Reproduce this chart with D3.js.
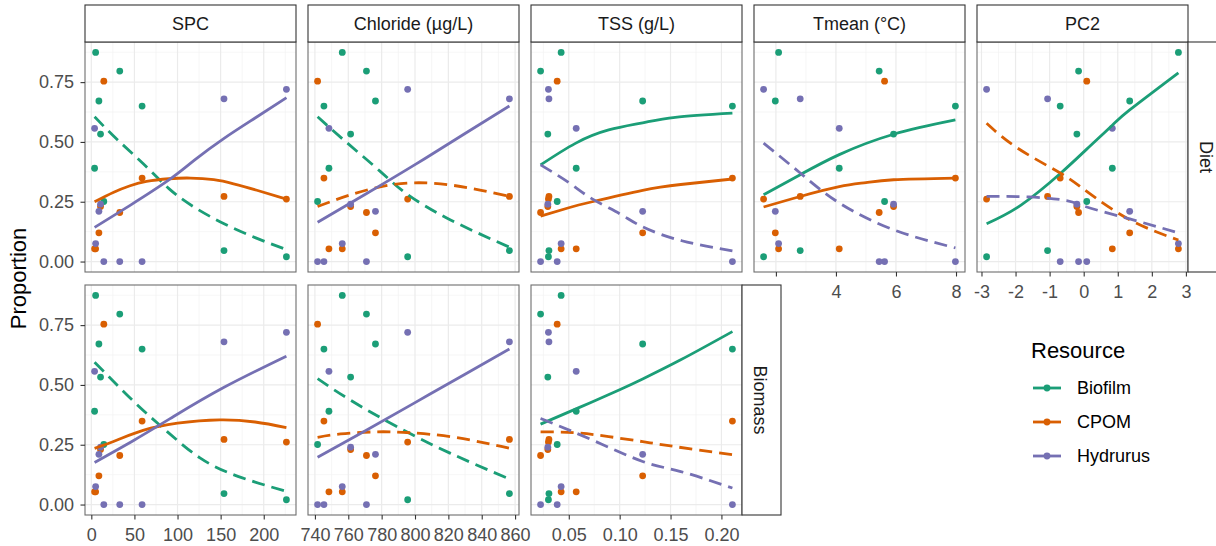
<!DOCTYPE html>
<html>
<head>
<meta charset="utf-8">
<script src="https://cdn.jsdelivr.net/npm/d3@7"></script>
<style>
  body { margin: 0; background: #fff; }
  svg text { font-family: "Liberation Sans", Arial, sans-serif; }
</style>
</head>
<body>
<script>
var W = 1216, H = 546;

// ---- data ----
var resources = ['Biofilm', 'CPOM', 'Hydrurus'];
var colors = ['#1B9E77', '#D95F02', '#7570B3'];
var facets = ['SPC', 'Chloride (µg/L)', 'TSS (g/L)', 'Tmean (°C)', 'PC2'];
var rows = ['Diet', 'Biomass'];

// one value per site (9 sites)
var spc      = [14.5, 58.9, 3.8, 5.0, 10.7, 33.0, 8.8, 226.3, 153.9];
var chloride = [741.6, 745.4, 748.4, 756.4, 761.4, 770.9, 776.3, 795.6, 856.6];
var tss      = [0.0386, 0.2108, 0.0573, 0.0425, 0.0294, 0.0223, 0.1226, 0.0300, 0.0305];
var tmean    = [5.62, 7.98, 4.11, 2.09, 5.92, 5.44, 1.98, 1.59, 2.81];
var pc2      = [0.09, -0.69, 0.84, 2.78, -0.20, -0.15, 1.35, -2.85, -1.06];

var biofilm  = [0.251, 0.650, 0.390, 0.874, 0.533, 0.796, 0.671, 0.020, 0.046];
var cpom     = [0.754, 0.349, 0.053, 0.053, 0.230, 0.205, 0.120, 0.261, 0.272];
var hydrurus = [0.000, 0.000, 0.557, 0.075, 0.240, 0.000, 0.210, 0.720, 0.680];

var propTicks = [0, 0.25, 0.5, 0.75];
var spcTicks = [0, 50, 100, 150, 200];
var chlorideTicks = [740, 760, 780, 800, 820, 840, 860];
var tssTicks = [0.05, 0.10, 0.15, 0.20];
var tmeanTicks = [2, 4, 6, 8];
var pc2Ticks = [-3, -2, -1, 0, 1, 2, 3];

// fitted curves: [x, proportion] for Biofilm, CPOM, Hydrurus
var dietSPC = [
  [[3.8,0.605],[30,0.51],[60,0.41],[90,0.305],[120,0.226],[154,0.158],[190,0.10],[226.3,0.05]],
  [[3.8,0.25],[26,0.29],[45,0.317],[64,0.335],[90,0.346],[115,0.349],[142,0.342],[165,0.325],[192,0.298],[226.3,0.261]],
  [[3.8,0.143],[45,0.235],[89.6,0.34],[120,0.425],[154,0.515],[190,0.60],[226.3,0.685]]
];
var dietChloride = [
  [[741.6,0.605],[757.3,0.508],[779.3,0.376],[795.6,0.28],[821,0.175],[856.6,0.06]],
  [[741.6,0.23],[761.4,0.279],[785,0.32],[809,0.328],[833,0.307],[856.6,0.272]],
  [[741.6,0.164],[770,0.28],[800,0.405],[830,0.535],[856.6,0.65]]
];
var dietTSS = [
  [[0.0223,0.404],[0.0565,0.494],[0.0892,0.55],[0.1226,0.58],[0.1546,0.603],[0.2108,0.62]],
  [[0.0223,0.19],[0.05,0.225],[0.073,0.25],[0.1226,0.298],[0.16,0.322],[0.2108,0.345]],
  [[0.0223,0.404],[0.05,0.33],[0.073,0.262],[0.10,0.20],[0.1226,0.145],[0.161,0.087],[0.2108,0.045]]
];
var dietTmean = [
  [[1.59,0.279],[2.81,0.363],[4.11,0.447],[5.92,0.532],[7.98,0.592]],
  [[1.59,0.228],[2.81,0.272],[4.11,0.313],[5.0,0.33],[5.92,0.342],[7.98,0.349]],
  [[1.59,0.495],[2.81,0.37],[4.11,0.245],[5.92,0.133],[7.98,0.057]]
];
var dietPC2 = [
  [[-2.85,0.158],[-1.83,0.237],[-0.67,0.37],[0.09,0.47],[0.84,0.57],[1.35,0.634],[2.78,0.789]],
  [[-2.85,0.578],[-1.94,0.474],[-0.69,0.37],[0.09,0.293],[1.35,0.175],[2.78,0.09]],
  [[-2.85,0.272],[-1.6,0.27],[-0.5,0.255],[0.09,0.228],[1.35,0.178],[2.78,0.12]]
];
var biomassSPC = [
  [[3.8,0.595],[50,0.428],[88,0.305],[126,0.195],[170,0.118],[226.3,0.055]],
  [[3.8,0.235],[30,0.27],[60,0.31],[100,0.34],[149,0.354],[190,0.345],[226.3,0.322]],
  [[3.8,0.176],[50,0.27],[95,0.367],[154,0.49],[226.3,0.62]]
];
var biomassChloride = [
  [[741.6,0.526],[761.4,0.436],[789.3,0.325],[821,0.215],[856.6,0.107]],
  [[741.6,0.281],[755.4,0.295],[777.3,0.304],[797.2,0.30],[821,0.284],[845,0.253],[856.6,0.235]],
  [[741.6,0.198],[770,0.307],[799.5,0.424],[830,0.545],[856.6,0.65]]
];
var biomassTSS = [
  [[0.0223,0.336],[0.06,0.405],[0.10,0.48],[0.1226,0.525],[0.16,0.605],[0.2108,0.723]],
  [[0.0223,0.304],[0.0565,0.30],[0.0892,0.284],[0.1226,0.263],[0.1546,0.242],[0.2108,0.208]],
  [[0.0223,0.36],[0.073,0.27],[0.1226,0.18],[0.16,0.138],[0.2108,0.069]]
];
// 1 = dashed (non-significant), 0 = solid
var dietDashed = [[1,0,0],[1,1,0],[0,0,1],[0,0,1],[0,1,1]];
var biomassDashed = [[1,0,0],[1,1,0],[0,1,1]];

var predictors = [spc, chloride, tss, tmean, pc2];
var props = [biofilm, cpom, hydrurus];
var tickSets = [spcTicks, chlorideTicks, tssTicks, tmeanTicks, pc2Ticks];
var tickFmt = [d3.format('d'), d3.format('d'), d3.format('.2f'), d3.format('d'), function(d){ return String(d); }];
var fits = [[dietSPC, dietChloride, dietTSS, dietTmean, dietPC2], [biomassSPC, biomassChloride, biomassTSS]];
var dashed = [dietDashed, biomassDashed];

// ---- layout ----
var px0 = 85, pw = 211, pstep = 223;
var rowTop = [42, 285], ph = 230;
var stripTop = 5, stripW = 39;
var font = '"Liberation Sans", Arial, sans-serif';

var svg = d3.select('body').append('svg').attr('width', W).attr('height', H);
svg.append('rect').attr('width', W).attr('height', H).attr('fill', '#fff');

function expand(ext){
  var d = (ext[1] - ext[0]) * 0.05;
  return [ext[0] - d, ext[1] + d];
}
function minors(ticks, dom){
  var step = ticks[1] - ticks[0], out = [];
  for (var i = -1; i < ticks.length; i++) {
    var m = ticks[0] + step * (i + 0.5);
    if (m > dom[0] && m < dom[1]) out.push(m);
  }
  return out;
}

var allProps = biofilm.concat(cpom, hydrurus);
var yDom = expand(d3.extent(allProps));
var yMinor = minors(propTicks, yDom);

var xScales = predictors.map(function(p, i){
  return d3.scaleLinear().domain(expand(d3.extent(p))).range([px0 + pstep * i, px0 + pstep * i + pw]);
});

var line = d3.line().curve(d3.curveNatural);

rows.forEach(function(row, r){
  var y = d3.scaleLinear().domain(yDom).range([rowTop[r] + ph, rowTop[r]]);
  var ncol = fits[r].length;
  for (var c = 0; c < ncol; c++) {
    var x = xScales[c];
    var g = svg.append('g').attr('class', 'panel');
    var x0 = x.range()[0];
    g.append('rect').attr('x', x0).attr('y', rowTop[r]).attr('width', pw).attr('height', ph).attr('fill', '#fff');

    // grid
    var xd = x.domain();
    g.selectAll('.xmin').data(minors(tickSets[c], xd)).enter().append('line')
      .attr('x1', function(d){ return x(d); }).attr('x2', function(d){ return x(d); })
      .attr('y1', rowTop[r]).attr('y2', rowTop[r] + ph)
      .attr('stroke', '#f2f2f2').attr('stroke-width', 0.7);
    g.selectAll('.ymin').data(yMinor).enter().append('line')
      .attr('x1', x0).attr('x2', x0 + pw)
      .attr('y1', function(d){ return y(d); }).attr('y2', function(d){ return y(d); })
      .attr('stroke', '#f2f2f2').attr('stroke-width', 0.7);
    g.selectAll('.xmaj').data(tickSets[c].filter(function(d){ return d >= xd[0] && d <= xd[1]; })).enter().append('line')
      .attr('x1', function(d){ return x(d); }).attr('x2', function(d){ return x(d); })
      .attr('y1', rowTop[r]).attr('y2', rowTop[r] + ph)
      .attr('stroke', '#ebebeb').attr('stroke-width', 1.2);
    g.selectAll('.ymaj').data(propTicks).enter().append('line')
      .attr('x1', x0).attr('x2', x0 + pw)
      .attr('y1', function(d){ return y(d); }).attr('y2', function(d){ return y(d); })
      .attr('stroke', '#ebebeb').attr('stroke-width', 1.2);

    // points
    props.forEach(function(pr, k){
      g.selectAll('.pt' + k).data(pr).enter().append('circle')
        .attr('cx', function(d, i){ return x(predictors[c][i]); })
        .attr('cy', function(d){ return y(d); })
        .attr('r', 3.4).attr('fill', colors[k]);
    });

    // fitted lines
    fits[r][c].forEach(function(curve, k){
      g.append('path')
        .attr('d', line(curve.map(function(p){ return [x(p[0]), y(p[1])]; })))
        .attr('fill', 'none').attr('stroke', colors[k]).attr('stroke-width', 2.8)
        .attr('stroke-dasharray', dashed[r][c][k] ? '13,7' : null);
    });

    g.append('rect').attr('x', x0).attr('y', rowTop[r]).attr('width', pw).attr('height', ph)
      .attr('fill', 'none').attr('stroke', '#6e6e6e').attr('stroke-width', 1.1);

    // x axis where this panel is the lowest in its column
    if (r === 1 || c >= 3) {
      var ax = svg.append('g').attr('transform', 'translate(0,' + (rowTop[r] + ph) + ')')
        .call(d3.axisBottom(x).tickValues(tickSets[c]).tickFormat(tickFmt[c]).tickSize(4.5).tickPadding(8.5));
      ax.select('.domain').remove();
      ax.selectAll('.tick line').attr('stroke', '#333').attr('stroke-width', 1.1);
      ax.selectAll('.tick text').attr('fill', '#4d4d4d').style('font-size', '18px').style('font-family', font);
    }
    // y axis
    if (c === 0) {
      var ay = svg.append('g').attr('transform', 'translate(' + x0 + ',0)')
        .call(d3.axisLeft(y).tickValues(propTicks).tickFormat(d3.format('.2f')).tickSize(4.5).tickPadding(6.5));
      ay.select('.domain').remove();
      ay.selectAll('.tick line').attr('stroke', '#333').attr('stroke-width', 1.1);
      ay.selectAll('.tick text').attr('fill', '#4d4d4d').style('font-size', '18px').style('font-family', font);
    }
    // top strips
    if (r === 0) {
      svg.append('rect').attr('x', x0).attr('y', stripTop).attr('width', pw).attr('height', rowTop[0] - stripTop)
        .attr('fill', '#fff').attr('stroke', '#333').attr('stroke-width', 1.1);
      svg.append('text').attr('x', x0 + pw / 2).attr('y', (stripTop + rowTop[0]) / 2)
        .attr('text-anchor', 'middle').attr('dy', '0.36em')
        .attr('fill', '#1a1a1a').style('font-size', '18px').text(facets[c]);
    }
  }
  // right strip
  var sx = px0 + pstep * (ncol - 1) + pw;
  svg.append('rect').attr('x', sx).attr('y', rowTop[r]).attr('width', stripW).attr('height', ph)
    .attr('fill', '#fff').attr('stroke', '#333').attr('stroke-width', 1.1);
  svg.append('text').attr('transform', 'translate(' + (sx + 18.5) + ',' + (rowTop[r] + ph / 2) + ') rotate(90)')
    .attr('text-anchor', 'middle').attr('dy', '0.36em')
    .attr('fill', '#1a1a1a').style('font-size', '18px').text(row);
});

// axis title
svg.append('text').attr('transform', 'translate(18,' + ((rowTop[0] + rowTop[1] + ph) / 2) + ') rotate(-90)')
  .attr('text-anchor', 'middle').attr('dy', '0.36em')
  .attr('fill', '#000').style('font-size', '22px').text('Proportion');

// legend
var lg = svg.append('g').attr('transform', 'translate(1031,0)');
lg.append('text').attr('x', 0).attr('y', 350).attr('dy', '0.36em')
  .style('font-size', '22px').attr('fill', '#000').text('Resource');
resources.forEach(function(name, k){
  var ly = 388 + k * 34;
  lg.append('line').attr('x1', 2).attr('x2', 30).attr('y1', ly).attr('y2', ly)
    .attr('stroke', colors[k]).attr('stroke-width', 2.8);
  lg.append('circle').attr('cx', 16).attr('cy', ly).attr('r', 3.4).attr('fill', colors[k]);
  lg.append('text').attr('x', 46).attr('y', ly).attr('dy', '0.36em')
    .style('font-size', '18px').attr('fill', '#000').text(name);
});
</script>
</body>
</html>
